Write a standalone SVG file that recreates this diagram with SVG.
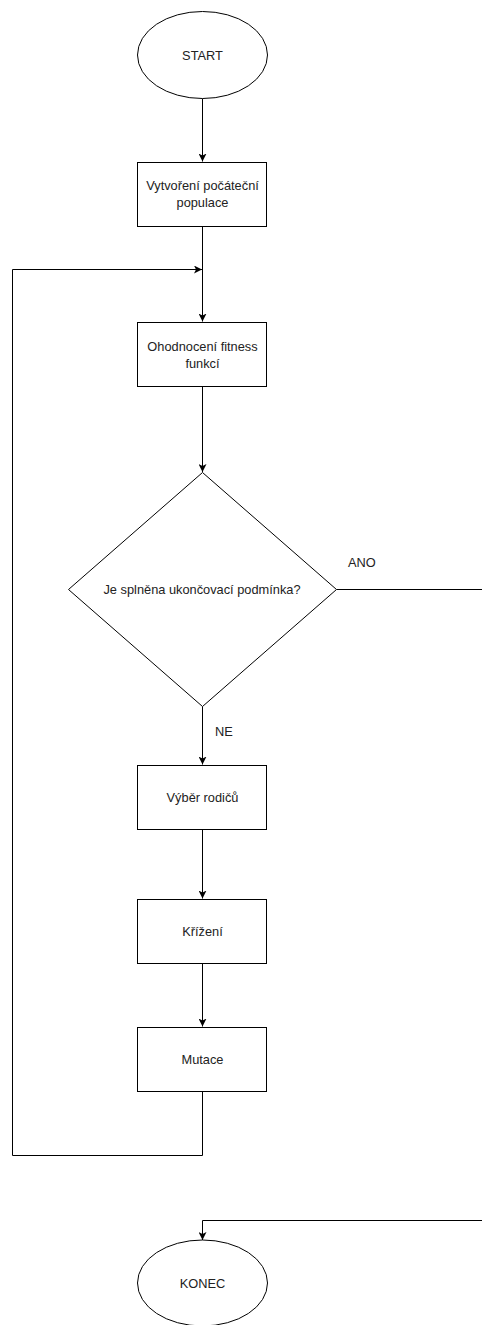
<svg xmlns="http://www.w3.org/2000/svg" width="482" height="1325" viewBox="0 0 482 1325">
<style>
.s{fill:#fff;stroke:#000;stroke-width:1}
.e{fill:none;stroke:#000;stroke-width:1}
.t{font-family:"Liberation Sans",Arial,sans-serif;font-size:12.8px;fill:#222;text-anchor:middle;dominant-baseline:central}
.l{font-family:"Liberation Sans",Arial,sans-serif;font-size:12.8px;fill:#222;dominant-baseline:central}
</style>
<defs>
<marker id="a" viewBox="0 0 10 10" refX="10" refY="5" markerWidth="8" markerHeight="8" markerUnits="userSpaceOnUse" orient="auto">
<path d="M0,0 L10,5 L0,10 L2.5,5 z" fill="#000"/>
</marker>
</defs>
<rect width="482" height="1325" fill="#fff"/>
<g id="connectors">
<path class="e" d="M202.5,98.5 V161.5" marker-end="url(#a)"/>
<path class="e" d="M202.5,226.5 V321.5" marker-end="url(#a)"/>
<path class="e" d="M202.5,386.5 V472" marker-end="url(#a)"/>
<path class="e" d="M202.5,706.5 V764.5" marker-end="url(#a)"/>
<path class="e" d="M202.5,829.5 V898.5" marker-end="url(#a)"/>
<path class="e" d="M202.5,963.5 V1026.5" marker-end="url(#a)"/>
<path class="e" d="M202.5,1091.5 V1155.5 H12.5 V269.5 H202" marker-end="url(#a)"/>
<path class="e" d="M336.5,589.5 H482"/>
<path class="e" d="M482,1220.5 H202.5 V1240" marker-end="url(#a)"/>
<text class="l" x="348" y="562">ANO</text>
<text class="l" x="215" y="731">NE</text>
</g>
<g id="start">
<ellipse class="s" cx="202.5" cy="55" rx="65" ry="43.5"/>
<text class="t" x="202.5" y="55">START</text>
</g>
<g id="init">
<rect class="s" x="137.5" y="162.5" width="129" height="64"/>
<text class="t" x="202.5" y="185.5">Vytvoření počáteční</text>
<text class="t" x="202.5" y="202">populace</text>
</g>
<g id="fitness">
<rect class="s" x="137.5" y="322.5" width="129" height="64"/>
<text class="t" x="202.5" y="346.5">Ohodnocení fitness</text>
<text class="t" x="202.5" y="363">funkcí</text>
</g>
<g id="decision">
<polygon class="s" points="202.5,472.5 336.5,589.5 202.5,706.5 68.5,589.5"/>
<text class="t" x="202" y="589">Je splněna ukončovací podmínka?</text>
</g>
<g id="selection">
<rect class="s" x="137.5" y="765.5" width="129" height="64"/>
<text class="t" x="202.5" y="797.5">Výběr rodičů</text>
</g>
<g id="crossover">
<rect class="s" x="137.5" y="899.5" width="129" height="64"/>
<text class="t" x="202.5" y="931.5">Křížení</text>
</g>
<g id="mutation">
<rect class="s" x="137.5" y="1027.5" width="129" height="64"/>
<text class="t" x="202.5" y="1059.5">Mutace</text>
</g>
<g id="end">
<ellipse class="s" cx="202.5" cy="1283" rx="65" ry="43"/>
<text class="t" x="202.5" y="1283">KONEC</text>
</g>
</svg>
